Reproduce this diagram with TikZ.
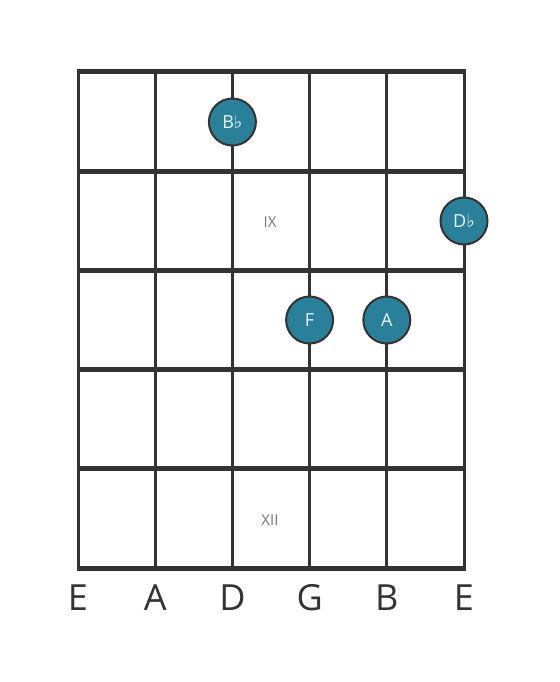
\documentclass[tikz,border=0pt]{standalone}
\usepackage{fontspec}
\setmainfont{Open Sans}
\newfontfamily\flatfont{DejaVu Sans}
\usepackage{tikz}
\usetikzlibrary{positioning}
\definecolor{fretgray}{HTML}{333333}
\definecolor{noteteal}{HTML}{2A7F99}
\definecolor{notetext}{HTML}{E4F6FA}
\definecolor{markgray}{HTML}{777777}
\newcommand{\flt}{{\flatfont\char"266D}}
\tikzset{
	fretline/.style={line width=5pt,color=fretgray},
	stringline/.style={line width=3pt,color=fretgray},
	note/.style={circle,draw=fretgray,line width=2pt,fill=noteteal,minimum size=47pt,inner sep=0pt,text=notetext,font=\fontsize{18}{18}\selectfont},
	stringname/.style={text=fretgray,font=\fontsize{36}{36}\selectfont},
	fretmark/.style={text=markgray,font=\fontsize{15}{15}\selectfont}
}

\begin{document}
\begin{tikzpicture}[x=1pt,y=-1pt]
\useasboundingbox (0,0) rectangle (559,682);
% strings
\foreach \x in {0,...,5}
	\draw [stringline] (78+77.2*\x,72) to (78+77.2*\x,568);
% frets
\foreach \y in {0,...,5}
	\draw [fretline] (76.5,72+99.2*\y) to (465.5,72+99.2*\y);

\node[fretmark] (ix) at (270,222) {IX};
\node[fretmark] (xii) at (270,520) {XII};

\node[note] (bflat) at (232.4,122) {B\flt};
\node[note] (dflat) at (464,221) {D\flt};
\node[note] (f) at (309.6,320) {F};
\node[note] (a) at (386.8,320) {A};

\foreach \n/\s [count=\i from 0] in {E/e1,A/a,D/d,G/g,B/b,E/e2}
	\node[stringname] (name-\s) at (78+77.2*\i,598) {\n};
\end{tikzpicture}
\end{document}
